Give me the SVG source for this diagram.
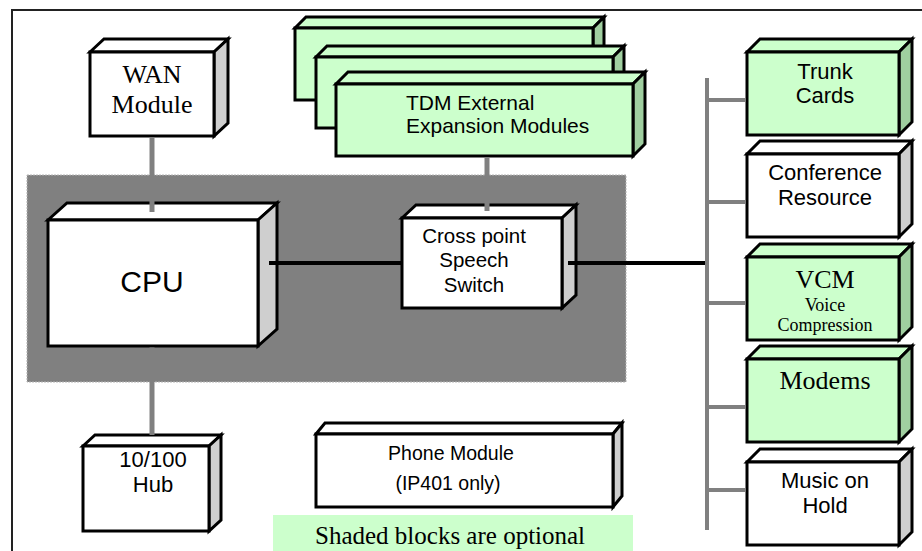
<svg xmlns="http://www.w3.org/2000/svg" width="922" height="551" viewBox="0 0 922 551">
<style>
.front{stroke:#000;stroke-width:3;stroke-linejoin:miter}
.g .front,.g .top{fill:#CCFFCC}
.g .side{fill:#A0CFA0}
.w .front,.w .top{fill:#FFFFFF}
.w .side{fill:#CFCFCF}
.top,.side{stroke:#000;stroke-width:3;stroke-linejoin:miter}
.sans{font-family:"Liberation Sans",Arial,sans-serif;fill:#000}
.serif{font-family:"Liberation Serif","Times New Roman",serif;fill:#000}
.gl{stroke:#808080;stroke-width:5;fill:none}
.bus{stroke:#808080;stroke-width:4;fill:none}
.bl{stroke:#000;stroke-width:4;fill:none}
</style>
<rect x="0" y="0" width="922" height="551" fill="#fff"/>
<path d="M12 551 V10 H922" fill="none" stroke="#222" stroke-width="2"/>
<g id="panel">
<rect x="27" y="175" width="599" height="207" fill="#808080" stroke="#b4b4b4" stroke-width="1" stroke-dasharray="2 1"/>
</g>
<g id="wan" class="w">
<polygon class="top" points="90,52 104,39 228,39 214,52"/>
<polygon class="side" points="214,52 228,39 228,123 214,136"/>
<rect class="front" x="90" y="52" width="124" height="84"/>
<text class="serif" font-size="26" text-anchor="middle" x="152" y="83">WAN</text>
<text class="serif" font-size="26" text-anchor="middle" x="152" y="113">Module</text>
</g>
<g id="tdm1" class="g">
<polygon class="top" points="295,28 306,17 604,17 593,28"/>
<polygon class="side" points="593,28 604,17 604,89 593,100"/>
<rect class="front" x="295" y="28" width="298" height="72"/>
</g>
<g id="tdm2" class="g">
<polygon class="top" points="316,57 327,46 624,46 613,57"/>
<polygon class="side" points="613,57 624,46 624,117 613,128"/>
<rect class="front" x="316" y="57" width="297" height="71"/>
</g>
<g id="tdm3" class="g">
<polygon class="top" points="336,84 348,72 645,72 633,84"/>
<polygon class="side" points="633,84 645,72 645,144 633,156"/>
<rect class="front" x="336" y="84" width="297" height="72"/>
<text class="sans" font-size="21" x="406" y="110">TDM External</text>
<text class="sans" font-size="21" x="406" y="133">Expansion Modules</text>
</g>
<g id="cpu" class="w">
<polygon class="top" points="48,220 67,203 277,203 258,220"/>
<polygon class="side" points="258,220 277,203 277,329 258,346"/>
<rect class="front" x="48" y="220" width="210" height="126"/>
<text class="sans" font-size="30" text-anchor="middle" x="152" y="292">CPU</text>
</g>
<g id="switch" class="w">
<polygon class="top" points="402,218 416,205 576,205 562,218"/>
<polygon class="side" points="562,218 576,205 576,295 562,308"/>
<rect class="front" x="402" y="218" width="160" height="90"/>
<text class="sans" font-size="20.5" text-anchor="middle" x="474" y="243">Cross point</text>
<text class="sans" font-size="20.5" text-anchor="middle" x="474" y="267">Speech</text>
<text class="sans" font-size="20.5" text-anchor="middle" x="474" y="292">Switch</text>
</g>
<g id="hub" class="w">
<polygon class="top" points="83,446 95,435 221,435 209,446"/>
<polygon class="side" points="209,446 221,435 221,520 209,531"/>
<rect class="front" x="83" y="446" width="126" height="85"/>
<text class="sans" font-size="22" text-anchor="middle" x="153" y="467">10/100</text>
<text class="sans" font-size="22" text-anchor="middle" x="153" y="492">Hub</text>
</g>
<g id="phone" class="w">
<polygon class="top" points="316,434 325,423 622,423 613,434"/>
<polygon class="side" points="613,434 622,423 622,496 613,507"/>
<rect class="front" x="316" y="434" width="297" height="73"/>
<text class="sans" font-size="19.5" text-anchor="middle" x="451" y="460">Phone Module</text>
<text class="sans" font-size="19.5" text-anchor="middle" x="448" y="490">(IP401 only)</text>
</g>
<g id="trunk" class="g">
<polygon class="top" points="747,52 760,39 912,39 899,52"/>
<polygon class="side" points="899,52 912,39 912,122 899,135"/>
<rect class="front" x="747" y="52" width="152" height="83"/>
<text class="sans" font-size="22" text-anchor="middle" x="825" y="79">Trunk</text>
<text class="sans" font-size="22" text-anchor="middle" x="825" y="103">Cards</text>
</g>
<g id="conference" class="w">
<polygon class="top" points="747,154 760,141 912,141 899,154"/>
<polygon class="side" points="899,154 912,141 912,224 899,237"/>
<rect class="front" x="747" y="154" width="152" height="83"/>
<text class="sans" font-size="22" text-anchor="middle" x="825" y="180">Conference</text>
<text class="sans" font-size="22" text-anchor="middle" x="825" y="205">Resource</text>
</g>
<g id="vcm" class="g">
<polygon class="top" points="747,257 760,244 912,244 899,257"/>
<polygon class="side" points="899,257 912,244 912,327 899,340"/>
<rect class="front" x="747" y="257" width="152" height="83"/>
<text class="serif" font-size="26" text-anchor="middle" x="825" y="288">VCM</text>
<text class="serif" font-size="18" text-anchor="middle" x="825" y="311">Voice</text>
<text class="serif" font-size="18" text-anchor="middle" x="825" y="331">Compression</text>
</g>
<g id="modems" class="g">
<polygon class="top" points="747,359 760,346 912,346 899,359"/>
<polygon class="side" points="899,359 912,346 912,429 899,442"/>
<rect class="front" x="747" y="359" width="152" height="83"/>
<text class="serif" font-size="26" text-anchor="middle" x="825" y="389">Modems</text>
</g>
<g id="music" class="w">
<polygon class="top" points="747,462 760,449 912,449 899,462"/>
<polygon class="side" points="899,462 912,449 912,532 899,545"/>
<rect class="front" x="747" y="462" width="152" height="83"/>
<text class="sans" font-size="22" text-anchor="middle" x="825" y="488">Music on</text>
<text class="sans" font-size="22" text-anchor="middle" x="825" y="513">Hold</text>
</g>
<g id="connectors">
<line class="gl" x1="152" y1="137.5" x2="152" y2="212"/>
<line class="gl" x1="487" y1="157.5" x2="487" y2="211"/>
<line class="gl" x1="152" y1="347.5" x2="152" y2="435"/>
<line class="bl" x1="269" y1="263" x2="401" y2="263"/>
<line class="bl" x1="568" y1="263" x2="707" y2="263"/>
<line class="bus" x1="707" y1="78" x2="707" y2="530"/>
<line class="bus" x1="707" y1="100" x2="746" y2="100"/>
<line class="bus" x1="707" y1="202" x2="746" y2="202"/>
<line class="bus" x1="707" y1="303" x2="746" y2="303"/>
<line class="bus" x1="707" y1="407" x2="746" y2="407"/>
<line class="bus" x1="707" y1="490" x2="746" y2="490"/>
</g>
<g id="legend">
<rect x="273" y="515" width="360" height="40" fill="#CCFFCC"/>
<text class="serif" font-size="25" x="315" y="544">Shaded blocks are optional</text>
</g>
</svg>
